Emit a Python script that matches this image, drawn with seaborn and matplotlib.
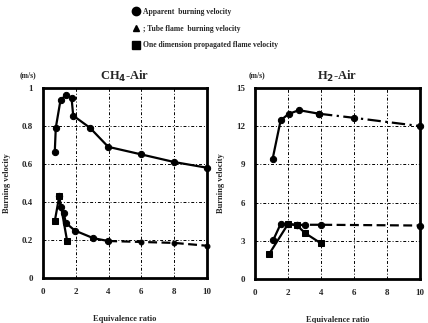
import matplotlib
matplotlib.use("Agg")
import matplotlib.pyplot as plt
import seaborn as sns
import pandas as pd
from matplotlib.lines import Line2D

sns.set_style("white")
plt.rcParams['font.family'] = ['Liberation Serif', 'DejaVu Sans']
plt.rcParams['font.weight'] = 'bold'

# ---- data: CH4-Air ----
ch4_app_x = [0.73, 0.79, 1.08, 1.44, 1.75, 1.85, 2.87, 3.98, 6.0, 8.0, 10.0]
ch4_app_y = [0.665, 0.79, 0.937, 0.963, 0.946, 0.854, 0.79, 0.69, 0.65, 0.61, 0.58]
ch4_tube_x = [1.0, 1.08, 1.28, 1.4, 1.95, 3.07, 3.98]
ch4_tube_y = [0.43, 0.375, 0.34, 0.29, 0.25, 0.21, 0.195]
ch4_tube_tail_x = [3.98, 6.0, 8.0, 10.0]
ch4_tube_tail_y = [0.195, 0.19, 0.185, 0.17]
ch4_one_x = [0.73, 1.0, 1.48]
ch4_one_y = [0.30, 0.43, 0.195]

# ---- data: H2-Air ----
h2_app_x = [1.06, 1.55, 2.03, 2.66, 3.88]
h2_app_y = [9.4, 12.45, 12.95, 13.25, 12.97]
h2_app_tail_x = [3.88, 6.0, 10.0]
h2_app_tail_y = [12.97, 12.65, 12.0]
h2_tube_x = [1.1, 1.55, 2.0, 2.52]
h2_tube_y = [3.06, 4.32, 4.32, 4.24]
h2_tube_tail_x = [2.52, 3.04, 4.0, 10.0]
h2_tube_tail_y = [4.24, 4.26, 4.26, 4.2]
h2_one_x = [0.87, 2.0, 2.52, 3.04, 4.0]
h2_one_y = [2.0, 4.32, 4.24, 3.6, 2.8]

legend_labels = ["Apparent  burning velocity",
                 "; Tube flame  burning velocity",
                 "One dimension propagated flame velocity"]

fig = plt.figure(figsize=(4.28, 3.23), dpi=100)
ax1 = fig.add_axes([0.100, 0.139, 0.384, 0.589])
ax2 = fig.add_axes([0.596, 0.136, 0.385, 0.592])

grid_ls = (0, (3, 2, 1, 2))

def draw(ax, x, y, marker, ls='-', ms=4.5):
    df = pd.DataFrame({"x": x, "y": y})
    sns.lineplot(data=df, x="x", y="y", ax=ax, color="black", linewidth=1.6,
                 linestyle=ls, marker=marker, markersize=ms,
                 markeredgecolor="black", markerfacecolor="black",
                 sort=False, clip_on=False, zorder=5)

# CH4
draw(ax1, ch4_app_x, ch4_app_y, 'o')
draw(ax1, ch4_tube_x, ch4_tube_y, 'o')
draw(ax1, ch4_tube_tail_x, ch4_tube_tail_y, 'o', ls=(0, (4, 2)), ms=3.5)
draw(ax1, ch4_one_x, ch4_one_y, 's', ms=4)

# H2
draw(ax2, h2_app_x, h2_app_y, 'o')
draw(ax2, h2_app_tail_x, h2_app_tail_y, 'o', ls=(0, (6, 2, 1, 2)))
draw(ax2, h2_tube_x, h2_tube_y, 'o')
draw(ax2, h2_tube_tail_x, h2_tube_tail_y, 'o', ls=(0, (4, 2)))
draw(ax2, h2_one_x, h2_one_y, 's', ms=4)

for ax, ymax, yticks, ylabs in [
        (ax1, 1.0, [0, 0.2, 0.4, 0.6, 0.8, 1.0], ["0", "0.2", "0.4", "0.6", "0.8", "1"]),
        (ax2, 15, [0, 3, 6, 9, 12, 15], ["0", "3", "6", "9", "12", "15"])]:
    ax.set_xlim(0, 10)
    ax.set_ylim(0, ymax)
    ax.set_xticks([0, 2, 4, 6, 8, 10])
    ax.set_xticklabels(["0", "2", "4", "6", "8", "10"])
    ax.set_yticks(yticks)
    ax.set_yticklabels(ylabs)
    ax.grid(True, color="black", linestyle=grid_ls, linewidth=0.7)
    for s in ax.spines.values():
        s.set_linewidth(2.0)
        s.set_color("black")
    ax.tick_params(labelsize=6.5, length=0, pad=7)
    ax.set_xlabel("Equivalence ratio", fontsize=6, fontweight='bold', labelpad=14)
    ax.set_ylabel("Burning velocity", fontsize=6, fontweight='bold', labelpad=8)

ax1.set_title("CH$_4$-Air", fontsize=9, fontweight='bold', pad=6)
ax2.set_title("H$_2$-Air", fontsize=9, fontweight='bold', pad=6)
fig.text(28 / 428, 1 - 75 / 323, "(m/s)", fontsize=5.5, fontweight='bold', ha='center', va='center')
fig.text(257 / 428, 1 - 75 / 323, "(m/s)", fontsize=5.5, fontweight='bold', ha='center', va='center')

handles = [Line2D([], [], marker='o', color='black', linestyle='none', markersize=6),
           Line2D([], [], marker='^', color='black', linestyle='none', markersize=4),
           Line2D([], [], marker='s', color='black', linestyle='none', markersize=6)]
fig.legend(handles, legend_labels, loc='upper left', bbox_to_anchor=(0.30, 0.99),
           frameon=False, fontsize=5.5, handlelength=0.8, handletextpad=0.5,
           labelspacing=1.15, borderaxespad=0.2)

fig.savefig("out.png", dpi=100)
